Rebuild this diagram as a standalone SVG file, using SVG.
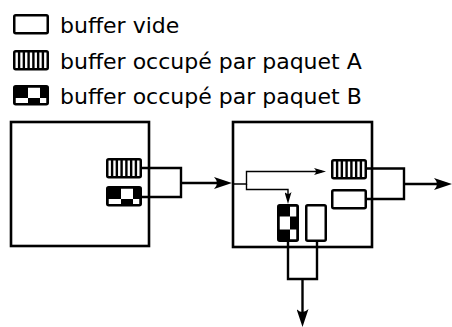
<svg xmlns="http://www.w3.org/2000/svg" xmlns:xlink="http://www.w3.org/1999/xlink" width="452" height="327" viewBox="0 0 452 327">
<style>
.lbl{font-family:"DejaVu Sans",sans-serif;font-size:22px;fill:#000}
.box{fill:#fff;stroke:#000;stroke-width:2.6}
.wire{fill:none;stroke:#000;stroke-width:2.4}
.thin{fill:none;stroke:#000;stroke-width:1.4}
.bb{stroke:#000;stroke-width:2.5}
</style>
<defs>
<marker id="big" viewBox="0 0 18 12" refX="12" refY="6" markerWidth="18" markerHeight="12" markerUnits="userSpaceOnUse" orient="auto">
<path d="M18,6 L0,0 Q6,6 0,12 Z" fill="#000"/>
</marker>
<marker id="small" viewBox="0 0 12 7" refX="8" refY="3.5" markerWidth="12" markerHeight="7" markerUnits="userSpaceOnUse" orient="auto">
<path d="M12,3.5 L0,0 Q4,3.5 0,7 Z" fill="#000"/>
</marker>
<g id="empty">
<rect class="bb" x="1.25" y="1.25" width="33.5" height="18" rx="1.5" fill="#fff"/>
</g>
<g id="emptyV">
<rect class="bb" x="1.25" y="1.25" width="19.5" height="35.5" rx="1.5" fill="#fff"/>
</g>
<g id="striped">
<rect x="1.25" y="1.25" width="33.5" height="18" rx="1.5" fill="#fff"/>
<path d="M6.1,2 V19 M10.85,2 V19 M15.6,2 V19 M20.4,2 V19 M25.15,2 V19 M29.9,2 V19" stroke="#000" stroke-width="2.4"/>
<rect class="bb" x="1.25" y="1.25" width="33.5" height="18" rx="1.5" fill="none"/>
</g>
<g id="checker">
<rect x="1.25" y="1.25" width="33.5" height="18" rx="1.5" fill="#000"/>
<rect x="15" y="2.5" width="12" height="10.5" fill="#fff"/>
<rect x="2.5" y="13" width="12.5" height="5" fill="#fff"/>
<rect x="27" y="13" width="6.5" height="5" fill="#fff"/>
<rect class="bb" x="1.25" y="1.25" width="33.5" height="18" rx="1.5" fill="none"/>
</g>
<g id="checkerV">
<rect x="1.25" y="1.25" width="19.5" height="35.5" rx="1.5" fill="#000"/>
<rect x="13" y="2.5" width="6.5" height="10" fill="#fff"/>
<rect x="2.5" y="12.5" width="10.5" height="13" fill="#fff"/>
<rect x="13" y="25.5" width="6.5" height="10" fill="#fff"/>
<rect class="bb" x="1.25" y="1.25" width="19.5" height="35.5" rx="1.5" fill="none"/>
</g>
</defs>

<g id="legend">
<g id="legend-empty">
<use xlink:href="#empty" x="13" y="14"/>
<text class="lbl" x="60" y="33">buffer vide</text>
</g>
<g id="legend-A">
<use xlink:href="#striped" x="13" y="50"/>
<text class="lbl" x="60" y="69">buffer occupé par paquet A</text>
</g>
<g id="legend-B">
<use xlink:href="#checker" x="13" y="85"/>
<text class="lbl" x="60" y="104">buffer occupé par paquet B</text>
</g>
</g>

<g id="node-left">
<rect class="box" x="11" y="122" width="138" height="124"/>
<use xlink:href="#striped" x="106" y="158"/>
<use xlink:href="#checker" x="106" y="186"/>
</g>

<g id="node-right">
<rect class="box" x="233" y="122" width="139" height="125"/>
<use xlink:href="#striped" x="331" y="159"/>
<use xlink:href="#empty" x="331" y="189"/>
<use xlink:href="#checkerV" x="277" y="204"/>
<use xlink:href="#emptyV" x="305" y="204"/>
</g>

<g id="connectors">
<path class="wire" d="M142,168 H181 V197 H142"/>
<path class="wire" d="M181,183 H226" marker-end="url(#big)"/>
<path class="wire" d="M366,168.5 H404 V199 H366"/>
<path class="wire" d="M404,184 H446" marker-end="url(#big)"/>
<path class="thin" d="M233,184 H246.5 V171.5 H322" marker-end="url(#small)"/>
<path class="thin" d="M246.5,184 V189.5 H288 V200" marker-end="url(#small)"/>
<path class="wire" d="M288,242 V279 H317 V242"/>
<path class="wire" d="M302.5,279 V321" marker-end="url(#big)"/>
</g>
</svg>
